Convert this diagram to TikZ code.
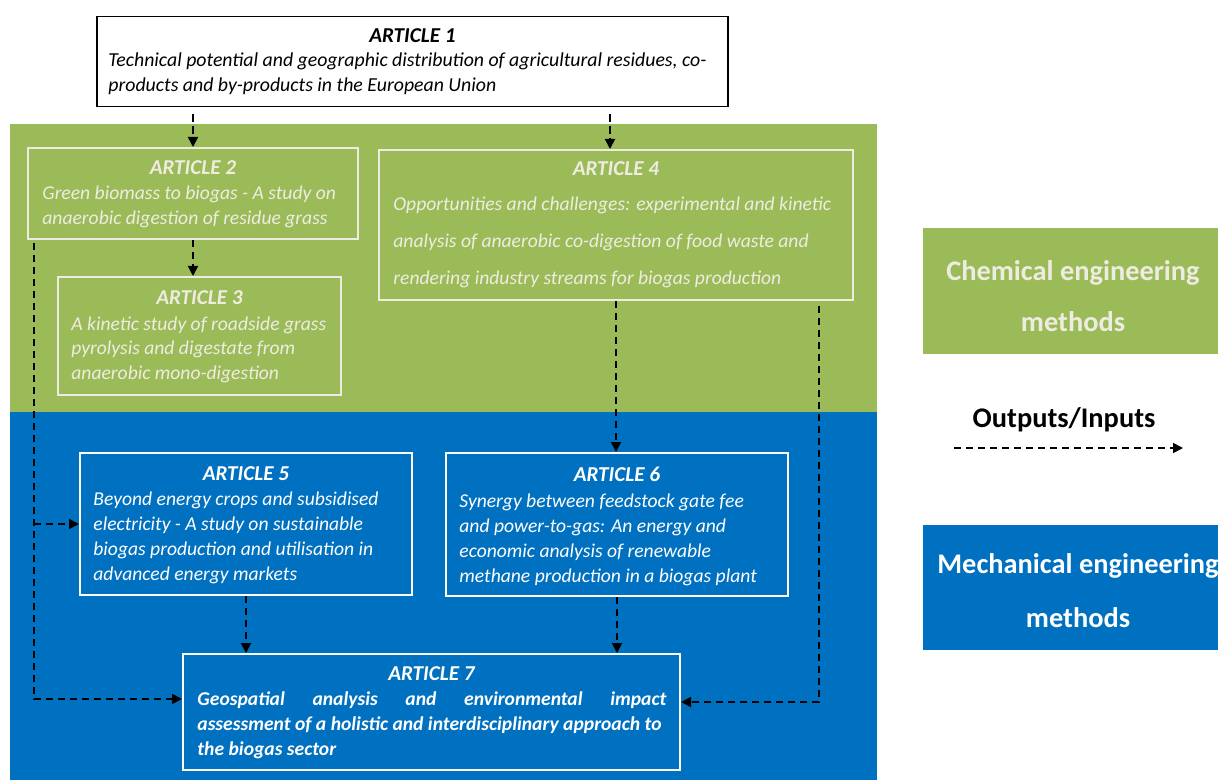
\documentclass[tikz,border=0pt]{standalone}
\usepackage{fontspec}
\setmainfont{Carlito}
\usetikzlibrary{arrows.meta}
\definecolor{cgreen}{HTML}{9BBB59}
\definecolor{cblue}{HTML}{0070C0}
\definecolor{clight}{HTML}{EEECE1}
\tikzset{
  artbox/.style={draw=#1, line width=1pt, inner sep=0pt},
  ttl/.style={anchor=base, inner sep=0pt, font=\fontsize{10.6}{12.5}\selectfont\bfseries\itshape},
  body/.style={anchor=base west, inner sep=0pt, align=left, font=\fontsize{9.8}{12.5}\selectfont\itshape},
  legbox/.style={fill=#1, draw=none, inner sep=0pt, minimum width=147.5pt},
  legtext/.style={anchor=base, inner sep=0pt, align=center, font=\fontsize{14.2}{#1}\selectfont\bfseries},
  arr/.style={draw=black, line width=0.9pt, dash pattern=on 3.6pt off 2.4pt, -{Triangle[length=5pt,width=5pt]}},
}
\begin{document}
\begin{tikzpicture}[x=0.5pt,y=-0.5pt]
\useasboundingbox (0,0) rectangle (1218,780);
% bands
\fill[cgreen] (10,124) rectangle (877,412);
\fill[cblue] (10,412) rectangle (877,780);

% boxes
\node[draw=black, line width=0.9pt, fill=white, inner sep=0pt, minimum width=315.5pt, minimum height=45pt] (a1) at (412.5,61.5) {};
\node[artbox=clight, minimum width=165pt, minimum height=45.5pt] (a2) at (193,193.5) {};
\node[artbox=clight, minimum width=141.5pt, minimum height=59pt] (a3) at (199.5,336) {};
\node[artbox=clight, minimum width=237pt, minimum height=75pt] (a4) at (616,225) {};
\node[artbox=white, minimum width=166pt, minimum height=71pt] (a5) at (246,524) {};
\node[artbox=white, minimum width=171pt, minimum height=71.5pt] (a6) at (617,524.5) {};
\node[artbox=white, minimum width=248.5pt, minimum height=58pt] (a7) at (431.5,712) {};

% article texts (body nodes are anchored at the baseline of their last line)
\node[ttl, text=black] (t1) at (412.5,43) {ARTICLE 1};
\node[body, text=black, font=\fontsize{9.9}{12.5}\selectfont\itshape] (b1) at (108,92)
  {Technical potential and geographic distribution of agricultural residues, co-\\products and by-products in the European Union};

\node[ttl, text=clight] (t2) at (193,175) {ARTICLE 2};
\node[body, text=clight] (b2) at (42,225)
  {Green biomass to biogas - A study on\\anaerobic digestion of residue grass};

\node[ttl, text=clight] (t3) at (199.5,305) {ARTICLE 3};
\node[body, text=clight, font=\fontsize{9.8}{12.25}\selectfont\itshape] (b3) at (71,379)
  {A kinetic study of roadside grass\\pyrolysis and digestate from\\anaerobic mono-digestion};

\node[ttl, text=clight] (t4) at (616,176) {ARTICLE 4};
\node[body, text=clight, font=\fontsize{9.8}{18.5}\selectfont\itshape] (b4) at (393,285)
  {Opportunities and challenges: experimental and kinetic\\analysis of anaerobic co-digestion of food waste and\\rendering industry streams for biogas production};

\node[ttl, text=white] (t5) at (246,480) {ARTICLE 5};
\node[body, text=white] (b5) at (93,580)
  {Beyond energy crops and subsidised\\electricity - A study on sustainable\\biogas production and utilisation in\\advanced energy markets};

\node[ttl, text=white] (t6) at (617,481) {ARTICLE 6};
\node[body, text=white] (b6) at (459,582)
  {Synergy between feedstock gate fee\\and power-to-gas: An energy and\\economic analysis of renewable\\methane production in a biogas plant};

\node[ttl, text=white] (t7) at (431.5,680) {ARTICLE 7};
\node[body, text=white, font=\fontsize{9.8}{12.5}\selectfont\bfseries\itshape] (b7) at (197,755)
  {\makebox[234.5pt][s]{Geospatial analysis and environmental impact}\\assessment of a holistic and interdisciplinary approach to\\the biogas sector};

% connectors
\coordinate (a4in) at ([xshift=-3pt]a4.north);
\draw[arr, shorten <=3.5pt] (a1.south -| a2.north) -- (a2.north);
\draw[arr, shorten <=3.5pt] (a1.south -| a4in) -- (a4in);
\draw[arr] (a2.south) -- (a2.south |- a3.north);
\coordinate (L) at ([xshift=3.5pt,yshift=-1.5pt]a2.south west);
\coordinate (a7w) at ([yshift=6.5pt]a7.west);
\draw[arr] (L) |- (a7w);
\draw[arr] (L |- a5.west) -- (a5.west);
\coordinate (R) at ([xshift=-17.5pt,yshift=-2.5pt]a4.south east);
\coordinate (a7e) at ([yshift=5pt]a7.east);
\draw[arr] (R) |- (a7e);
\draw[arr] (a4.south) -- (a4.south |- a6.north);
\draw[arr] (a5.south) -- (a5.south |- a7.north);
\draw[arr] (a6.south) -- (a6.south |- a7.north);

% legend
\node[legbox=cgreen, minimum height=63pt] (chem) at (1070.5,291) {};
\node[legtext=25.5pt, text=clight] (chemt) at (1073,331) {Chemical engineering\\methods};
\node[legtext=14pt, text=black] (oit) at (1064,427) {Outputs/Inputs};
\coordinate (lg1) at (954,448);
\coordinate (lg2) at (1183,448);
\draw[arr] (lg1) -- (lg2);
\node[legbox=cblue, minimum height=62.5pt] (mech) at (1070.5,587.5) {};
\node[legtext=27pt, text=white] (mecht) at (1078,627) {Mechanical engineering\\methods};
\end{tikzpicture}
\end{document}
